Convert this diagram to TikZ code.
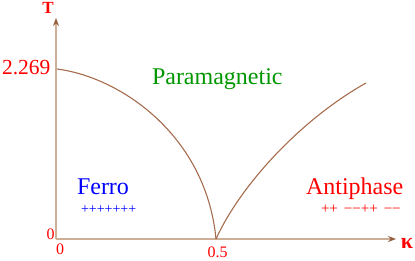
\documentclass[tikz,border=0pt]{standalone}
\usepackage{fontspec}
\setmainfont{Liberation Serif}
\usetikzlibrary{arrows.meta}
\definecolor{axiscol}{RGB}{205,175,152}
\definecolor{tipcol}{RGB}{150,95,65}
\definecolor{curvecol}{RGB}{165,108,78}
\definecolor{paragreen}{RGB}{0,150,0}
\tikzset{
  axisline/.style={draw=axiscol, line width=1.8pt, -{Stealth[length=8pt,width=6pt,color=tipcol]}},
  phaseline/.style={draw=curvecol, line width=1.1pt},
  lbl/.style={inner sep=0pt, outer sep=0pt},
}
\begin{document}
\begin{tikzpicture}[x=1pt,y=-1pt]
\useasboundingbox (0,0) rectangle (415,260);
\coordinate (O) at (56,239);
\coordinate (Xend) at (396,239);
\coordinate (Yend) at (56,18);
\coordinate (Tc) at (57,69);
\coordinate (Kc) at (216,239);
\coordinate (Rend) at (366,83);
\draw[axisline] (O) -- (Xend);
\draw[axisline] (O) -- (Yend);
% phase boundaries
\draw[phaseline] (Tc) .. controls (120,77) and (206,135) .. (Kc);
\draw[phaseline] (Kc) .. controls (240,186) and (300,120) .. (Rend);
% axis labels
\node[lbl, text=red, font=\fontsize{17}{17}\selectfont\bfseries, anchor=base] (T) at (48,13.5) {T};
\node[lbl, text=red, font=\fontsize{22}{22}\selectfont\bfseries, anchor=center] (kappa) at (407,243) {κ};
\node[lbl, text=red, font=\fontsize{21.5}{22}\selectfont, anchor=base east] (tc) at (50.5,74.5) {2.269};
\node[lbl, text=red, font=\fontsize{16}{16}\selectfont, anchor=base east] (zy) at (54.5,239) {0};
\node[lbl, text=red, font=\fontsize{16}{16}\selectfont, anchor=base west] (zx) at (56,254) {0};
\node[lbl, text=red, font=\fontsize{16}{16}\selectfont, anchor=base] (half) at (217.5,257) {0.5};
% phase labels
\node[lbl, text=paragreen, font=\fontsize{24}{24}\selectfont, anchor=base west] (para) at (152,84) {Paramagnetic};
\node[lbl, text=blue, font=\fontsize{24}{24}\selectfont, anchor=base west] (ferro) at (77,194) {Ferro};
\node[lbl, text=red, font=\fontsize{24}{24}\selectfont, anchor=base west] (anti) at (306,194) {Antiphase};
\node[lbl, text=blue, font=\fontsize{14}{14}\selectfont, anchor=west] (fpat) at (81,209.5) {+++++++};
\node[lbl, text=red, font=\fontsize{15}{15}\selectfont, anchor=west] (apat) at (321,209.5) {++\hspace{6pt}−−++\hspace{6pt}−−};
\end{tikzpicture}
\end{document}
